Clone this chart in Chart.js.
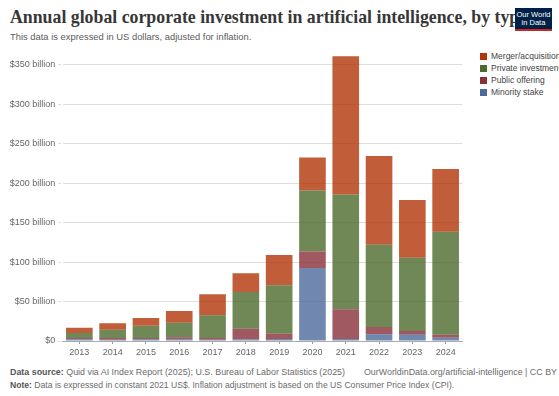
<!DOCTYPE html>
<html>
<head>
<meta charset="utf-8">
<script src="https://cdn.jsdelivr.net/npm/chart.js@4.4.1/dist/chart.umd.min.js"></script>
<style>
  body { margin: 0; background: #fff; font-family: "Liberation Sans", Arial, sans-serif; }
  #wrap { position: relative; width: 559px; height: 396px; overflow: hidden; }
  #title { position: absolute; left: 10px; top: 7px; white-space: nowrap;
    font-family: "Liberation Serif", serif; font-weight: bold; font-size: 17.8px; color: #373737; }
  #subtitle { position: absolute; left: 10px; top: 31px; font-size: 9.4px; color: #5b5b5b; }
  #logo { position: absolute; left: 515px; top: 8px; width: 37px; height: 23px; background: #002147;
    border-bottom: 2px solid #ce261e; box-sizing: border-box; color: #fff; font-size: 7.5px;
    line-height: 8px; text-align: center; padding-top: 3px; }
  #chartBox { position: absolute; left: 0; top: 40px; width: 470px; height: 325px; }
  #legend { position: absolute; left: 480px; top: 50px; font-size: 8.5px; color: #444; white-space: nowrap; }
  #legend div { height: 12px; line-height: 12px; }
  #legend span { display: inline-block; width: 7px; height: 7px; margin-right: 4px; vertical-align: -0.5px; }
  .foot { position: absolute; font-size: 8.9px; color: #6b6b6b; white-space: nowrap; }
  .foot b { color: #555; }
</style>
</head>
<body>
<div id="wrap">
  <div id="title">Annual global corporate investment in artificial intelligence, by type</div>
  <div id="logo">Our World<br>in Data</div>
  <div id="subtitle">This data is expressed in US dollars, adjusted for inflation.</div>
  <div id="chartBox"><canvas id="c"></canvas></div>
  <div id="legend"></div>
  <div class="foot" style="left:10px; top:367px;"><b>Data source:</b> Quid via AI Index Report (2025); U.S. Bureau of Labor Statistics (2025)</div>
  <div class="foot" style="right:2px; top:367px;">OurWorldinData.org/artificial-intelligence | CC BY</div>
  <div class="foot" style="left:10px; top:380px; font-size:8.6px;"><b>Note:</b> Data is expressed in constant 2021 US$. Inflation adjustment is based on the US Consumer Price Index (CPI).</div>
</div>
<script>
// years on the x axis
var years = ["2013","2014","2015","2016","2017","2018","2019","2020","2021","2022","2023","2024"];

// billions of US$ (2021 prices)
var minorityStake = [2.1, 1.5, 2.1, 2.1, 1.5, 2.1, 2.5, 92.5, 2.5, 8.4, 8.0, 4.2];
var publicOffering = [1.7, 2.3, 1.7, 2.6, 2.3, 13.5, 6.8, 20.7, 37.7, 9.3, 4.7, 3.8];
var privateInvestment = [6.3, 10.5, 15.6, 18.5, 28.7, 46.5, 61.3, 77.3, 145.2, 104.3, 92.8, 130.5];
var mergerAcquisition = [6.8, 8.1, 9.7, 14.8, 26.7, 23.7, 38.4, 41.8, 175.3, 112.4, 73.1, 79.4];

var yTicks = [0, 50, 100, 150, 200, 250, 300, 350];

var series = [
  { label: "Merger/acquisition", data: mergerAcquisition, color: "177,53,7" },
  { label: "Private investment", data: privateInvestment, color: "76,106,44" },
  { label: "Public offering", data: publicOffering, color: "136,48,57" },
  { label: "Minority stake", data: minorityStake, color: "76,106,156" }
];

// legend (top to bottom, same order as OWID)
var legendEl = document.getElementById("legend");
series.forEach(function (s) {
  var row = document.createElement("div");
  row.innerHTML = '<span style="background:rgb(' + s.color + ')"></span>' + s.label;
  legendEl.appendChild(row);
});

// stacking order: minority at the bottom
var datasets = series.slice().reverse().map(function (s) {
  return {
    label: s.label,
    data: s.data,
    backgroundColor: "rgba(" + s.color + ",0.8)",
    borderWidth: 0,
    categoryPercentage: 1,
    barPercentage: 0.8
  };
});

new Chart(document.getElementById("c"), {
  type: "bar",
  data: { labels: years, datasets: datasets },
  options: {
    responsive: true,
    maintainAspectRatio: false,
    animation: false,
    layout: { padding: { top: 12.8, bottom: 4, left: 0, right: 7.7 } },
    plugins: { legend: { display: false }, tooltip: { enabled: false } },
    scales: {
      x: {
        stacked: true,
        afterFit: function (axis) { axis.height = 20; },
        grid: { drawOnChartArea: false, offset: false, tickLength: 3, color: "#999" },
        border: { color: "#aaa" },
        ticks: { padding: 3, color: "#666", font: { family: "Liberation Sans", size: 9 } }
      },
      y: {
        stacked: true,
        min: 0,
        max: 365,
        afterFit: function (axis) { axis.width = 62.7; },
        afterBuildTicks: function (axis) {
          axis.ticks = yTicks.map(function (v) { return { value: v }; });
        },
        border: { display: false },
        grid: { color: "#ddd", borderDash: [3, 3], tickBorderDash: [3, 3], tickLength: 4.5, drawTicks: true },
        ticks: {
          padding: 3,
          color: "#666",
          font: { family: "Liberation Sans", size: 9 },
          callback: function (v) { return v === 0 ? "$0" : "$" + v + " billion"; }
        }
      }
    }
  }
});
</script>
</body>
</html>
